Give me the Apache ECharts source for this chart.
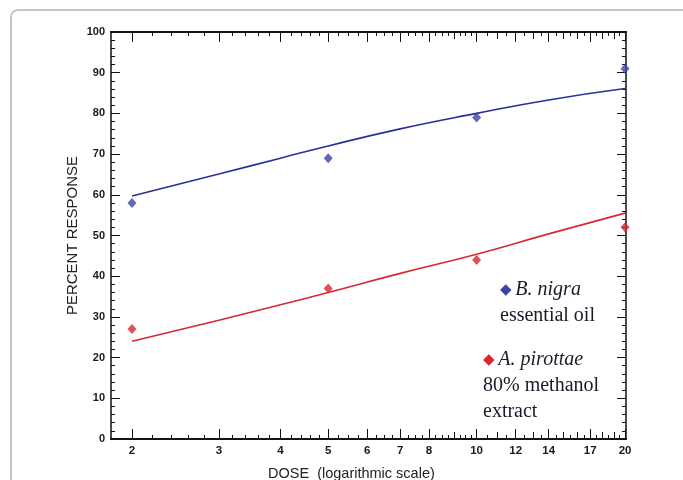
<!DOCTYPE html>
<html>
<head>
<meta charset="utf-8">
<title>Percent response vs dose</title>
<script src="https://cdn.jsdelivr.net/npm/echarts@6/dist/echarts.min.js"></script>
<style>
  html, body { margin: 0; padding: 0; background: #fff; }
  #chart { width: 683px; height: 480px; }
</style>
</head>
<body>
<div id="chart"></div>
<script>
// doses where points were measured
var doses = [2, 5, 10, 20];
var nigraPts = [58, 69, 79, 91];
var pirottaePts = [27, 37, 44, 52];

// fitted curves
var fitDoses = [2, 3, 4, 5, 7, 10, 14, 20];
var nigraFit = [59.7, 65.1, 69.0, 72.0, 76.2, 80.0, 83.3, 86.1];
var pirottaeFit = [24.0, 29.2, 33.0, 36.0, 40.7, 45.4, 50.4, 55.5];

// x axis ticks (dose)
var labelTicks = [2, 3, 4, 5, 6, 7, 8, 10, 12, 14, 17, 20];
var midTicks = [9, 11, 13, 15, 16, 18, 19];
var minorTicks = [2.2, 2.4, 2.6, 2.8, 3.2, 3.4, 3.6, 3.8, 4.2, 4.4, 4.6, 4.8,
  5.25, 5.5, 5.75, 6.25, 6.5, 6.75, 7.25, 7.5, 7.75, 8.25, 8.5, 8.75, 9.25, 9.5, 9.75,
  10.5, 11.5, 12.5, 13.5, 14.5, 15.5, 16.5, 17.5, 18.5, 19.5];

var lg = function (d) { return Math.log10(d); };
var pairs = function (xs, ys) { return xs.map(function (x, i) { return [lg(x), ys[i]]; }); };

var xMin = 0.2584, xMax = 1.303;
var axisCol = '#111';

function xAx(pos, ticks, len, labels) {
  return {
    type: 'value', gridIndex: 0, position: pos, min: xMin, max: xMax,
    axisLine: { show: true, onZero: false, lineStyle: { color: axisCol, width: 1.5 } },
    axisTick: { show: true, inside: true, length: len, customValues: ticks.map(lg),
      lineStyle: { color: axisCol, width: 1 } },
    axisLabel: labels ? {
      show: true, customValues: ticks.map(lg), margin: 6,
      formatter: function (v) { return String(Math.round(Math.pow(10, v))); },
      fontFamily: 'Liberation Sans', fontWeight: 'bold', fontSize: 11.5, color: '#1a1a1a'
    } : { show: false },
    splitLine: { show: false }
  };
}

function yAx(pos, labels) {
  return {
    type: 'value', position: pos, min: 0, max: 100, interval: 10,
    name: labels ? 'PERCENT RESPONSE' : '',
    nameLocation: 'middle', nameGap: 31, nameMoveOverlap: false,
    nameTextStyle: { fontFamily: 'Liberation Sans', fontSize: 15, color: '#222' },
    axisLine: { show: true, lineStyle: { color: axisCol, width: 1.5 } },
    axisTick: { show: true, inside: true, length: 9, lineStyle: { color: axisCol, width: 1 } },
    minorTick: { show: true, splitNumber: 5, length: 4, lineStyle: { color: axisCol, width: 1 } },
    axisLabel: labels ? { show: true, margin: 6, fontFamily: 'Liberation Sans',
      fontWeight: 'bold', fontSize: 11, color: '#1a1a1a' } : { show: false },
    splitLine: { show: false }
  };
}

var legendRich = function (col) {
  return {
    mk: { fill: col, fontSize: 15, lineHeight: 26 },
    i: { fontFamily: 'Liberation Serif', fontStyle: 'italic', fontSize: 20, fill: '#1a1a2a', lineHeight: 26 },
    n: { fontFamily: 'Liberation Serif', fontSize: 20, fill: '#1a1a2a', lineHeight: 26 }
  };
};

var chart = echarts.init(document.getElementById('chart'));
chart.setOption({
  backgroundColor: '#fff',
  animation: false,
  grid: { left: 111, right: 57, top: 32, bottom: 41 },
  title: {
    text: 'DOSE  (logarithmic scale)', left: 263, top: 461,
    textStyle: { fontFamily: 'Liberation Sans', fontSize: 14.5, fontWeight: 'normal', color: '#222' }
  },
  xAxis: [
    xAx('bottom', labelTicks, 10, true),
    xAx('bottom', midTicks, 7, false),
    xAx('bottom', minorTicks, 4, false),
    xAx('top', labelTicks, 10, false),
    xAx('top', midTicks, 7, false),
    xAx('top', minorTicks, 4, false)
  ],
  yAxis: [yAx('left', true), yAx('right', false)],
  graphic: [
    {
      type: 'rect', silent: true, z: -10,
      shape: { x: 11, y: 10, width: 720, height: 520, r: 7 },
      style: { fill: 'none', stroke: '#b4b4b4', lineWidth: 1.5 }
    },
    {
      type: 'text', left: 500, top: 277,
      style: { text: '{mk|\u25C6} {i|B. nigra}\n{n|essential oil}', lineHeight: 26, rich: legendRich('#3a45a8') }
    },
    {
      type: 'text', left: 483, top: 347,
      style: { text: '{mk|\u25C6} {i|A. pirottae}\n{n|80% methanol}\n{n|extract}', lineHeight: 26, rich: legendRich('#d8262b') }
    }
  ],
  series: [
    {
      type: 'line', smooth: true, showSymbol: false, clip: false,
      data: pairs(fitDoses, nigraFit),
      lineStyle: { color: '#28309a', width: 1.6 }
    },
    {
      type: 'line', smooth: true, showSymbol: false, clip: false,
      data: pairs(fitDoses, pirottaeFit),
      lineStyle: { color: '#d42a30', width: 1.6 }
    },
    {
      type: 'scatter', symbol: 'diamond', symbolSize: [9, 10], clip: false,
      data: pairs(doses, nigraPts),
      itemStyle: { color: '#3a45a8' }
    },
    {
      type: 'scatter', symbol: 'diamond', symbolSize: [9, 10], clip: false,
      data: pairs(doses, pirottaePts),
      itemStyle: { color: '#d8262b' }
    }
  ]
});
</script>
</body>
</html>
